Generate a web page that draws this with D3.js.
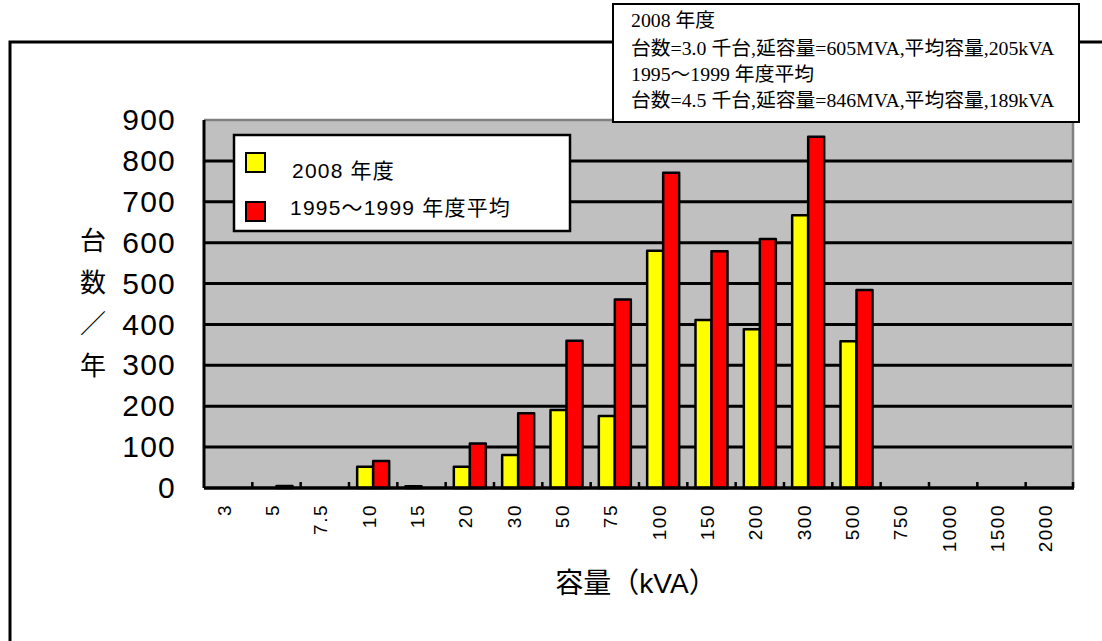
<!DOCTYPE html>
<html>
<head>
<meta charset="utf-8">
<script src="https://cdn.jsdelivr.net/npm/d3@7"></script>
<style>
  html, body { margin: 0; padding: 0; background: #fff; }
  svg { display: block; }
  .sans { font-family: "Liberation Sans", Arial, "Noto Sans CJK JP", sans-serif; }
  .serif { font-family: "Liberation Serif", "Times New Roman", "Noto Sans CJK JP", serif; }
</style>
</head>
<body>
<svg id="chart" width="1102" height="641"></svg>
<script>
// Transformer capacity classes (kVA)
const capacities = ["3", "5", "7.5", "10", "15", "20", "30", "50", "75", "100", "150", "200", "300", "500", "750", "1000", "1500", "2000"];
// Units per year, FY2008
const units2008 = [0, 0, 0, 52, 4, 52, 81, 191, 176, 580, 411, 388, 667, 359, 0, 0, 0, 0];
// Units per year, FY1995-1999 average
const unitsAvg = [0, 5, 0, 66, 0, 109, 183, 360, 461, 771, 579, 609, 859, 484, 0, 0, 0, 0];
const seriesNames = ["2008 年度", "1995～1999 年度平均"];
const seriesColors = ["#ffff00", "#ff0000"];
const yTicks = [0, 100, 200, 300, 400, 500, 600, 700, 800, 900];
const noteLines = [
  "2008 年度",
  "台数=3.0 千台,延容量=605MVA,平均容量,205kVA",
  "1995～1999 年度平均",
  "台数=4.5 千台,延容量=846MVA,平均容量,189kVA"
];
const yLabelChars = ["台", "数", "／", "年"];

const svg = d3.select("#chart");

// outer frame
svg.append("rect")
  .attr("x", 10).attr("y", 42)
  .attr("width", 1200).attr("height", 700)
  .attr("fill", "#fff").attr("stroke", "#000").attr("stroke-width", 3);

const plot = { left: 204, right: 1074, top: 120, bottom: 488 };

const x = d3.scaleBand().domain(capacities).range([plot.left, plot.right]).paddingInner(0).paddingOuter(0);
const xs = d3.scaleBand().domain([0, 1]).range([0, x.bandwidth()]).paddingInner(0).paddingOuter(0.51);
const y = d3.scaleLinear().domain([0, 900]).range([plot.bottom, plot.top]);

// plot background
svg.append("rect")
  .attr("x", plot.left).attr("y", plot.top)
  .attr("width", plot.right - plot.left).attr("height", plot.bottom - plot.top)
  .attr("fill", "#c0c0c0");
svg.append("path")
  .attr("d", `M${plot.left},${plot.top} H${plot.right - 1} V${plot.bottom}`)
  .attr("fill", "none").attr("stroke", "#808080").attr("stroke-width", 2.5);

// horizontal grid lines
svg.append("g")
  .selectAll("line")
  .data(yTicks.filter(d => d > 0 && d < 900))
  .join("line")
  .attr("x1", plot.left).attr("x2", plot.right - 2)
  .attr("y1", d => y(d)).attr("y2", d => y(d))
  .attr("stroke", "#000").attr("stroke-width", 3);

// bars
const series = [units2008, unitsAvg];
const barG = svg.append("g");
series.forEach((vals, si) => {
  barG.append("g")
    .selectAll("rect")
    .data(vals.map((v, i) => ({ cat: capacities[i], v })).filter(d => d.v > 0))
    .join("rect")
    .attr("x", d => x(d.cat) + xs(si))
    .attr("y", d => y(d.v))
    .attr("width", xs.bandwidth())
    .attr("height", d => y(0) - y(d.v))
    .attr("fill", seriesColors[si])
    .attr("stroke", "#000").attr("stroke-width", 2.5)
    .attr("stroke-linejoin", "round");
});

// y axis
const yAxis = d3.axisLeft(y).tickValues(yTicks).tickSize(0).tickPadding(28);
const yg = svg.append("g").attr("transform", `translate(${plot.left},0)`).call(yAxis);
yg.select(".domain").attr("stroke", "#000").attr("stroke-width", 3).attr("d", `M0,${plot.top}V${plot.bottom}`);
yg.selectAll("text")
  .attr("class", "sans")
  .attr("font-size", 30)
  .attr("letter-spacing", 1.2)
  .attr("fill", "#000");

// x axis
const xAxis = d3.axisBottom(x).tickSize(0).tickFormat(d => d);
const xg = svg.append("g").attr("transform", `translate(0,${plot.bottom})`).call(xAxis);
xg.select(".domain").attr("stroke", "#000").attr("stroke-width", 3.5).attr("d", `M${plot.left},0H${plot.right}`);
xg.selectAll(".tick text")
  .attr("class", "sans")
  .attr("font-size", 19)
  .attr("letter-spacing", 1.5)
  .attr("fill", "#000")
  .attr("text-anchor", "end")
  .attr("y", 0).attr("dy", "0.35em")
  .attr("transform", "translate(-4,16) rotate(-90)");

// small tick marks between capacity classes
svg.append("g")
  .selectAll("line")
  .data(capacities.slice(1).concat(["end"]))
  .join("line")
  .attr("x1", d => d === "end" ? plot.right - 1 : x(d))
  .attr("x2", d => d === "end" ? plot.right - 1 : x(d))
  .attr("y1", plot.bottom).attr("y2", plot.bottom - 6)
  .attr("stroke", "#000").attr("stroke-width", 2.5);

// axis titles
svg.append("g")
  .selectAll("text")
  .data(yLabelChars)
  .join("text")
  .attr("class", "sans")
  .attr("x", 93)
  .attr("y", (d, i) => 250 + i * 41.5)
  .attr("text-anchor", "middle")
  .attr("font-size", 26)
  .text(d => d);

svg.append("text")
  .attr("class", "sans")
  .attr("x", 636).attr("y", 593)
  .attr("text-anchor", "middle")
  .attr("font-size", 28)
  .text("容量（kVA）");

// legend
const legend = svg.append("g");
legend.append("rect")
  .attr("x", 234).attr("y", 135)
  .attr("width", 336).attr("height", 96)
  .attr("fill", "#fff").attr("stroke", "#000").attr("stroke-width", 2.5);
const legendRows = [{ sq: 153, tx: 178 }, { sq: 202, tx: 215 }];
seriesNames.forEach((name, i) => {
  legend.append("rect")
    .attr("x", 246).attr("y", legendRows[i].sq)
    .attr("width", 19).attr("height", 19)
    .attr("fill", seriesColors[i]).attr("stroke", "#000").attr("stroke-width", 2);
  legend.append("text")
    .attr("class", "sans")
    .attr("x", i === 0 ? 292 : 290).attr("y", legendRows[i].tx)
    .attr("font-size", 21)
    .attr("letter-spacing", 1.2)
    .text(name);
});

// summary note box
const note = svg.append("g");
note.append("rect")
  .attr("x", 613).attr("y", 4)
  .attr("width", 466).attr("height", 118)
  .attr("fill", "#fff").attr("stroke", "#000").attr("stroke-width", 2);
note.selectAll("text")
  .data(noteLines)
  .join("text")
  .attr("class", "serif")
  .attr("x", 631)
  .attr("y", (d, i) => [27, 55, 81, 107][i])
  .attr("font-size", 19.8)
  .text(d => d);
</script>
</body>
</html>
